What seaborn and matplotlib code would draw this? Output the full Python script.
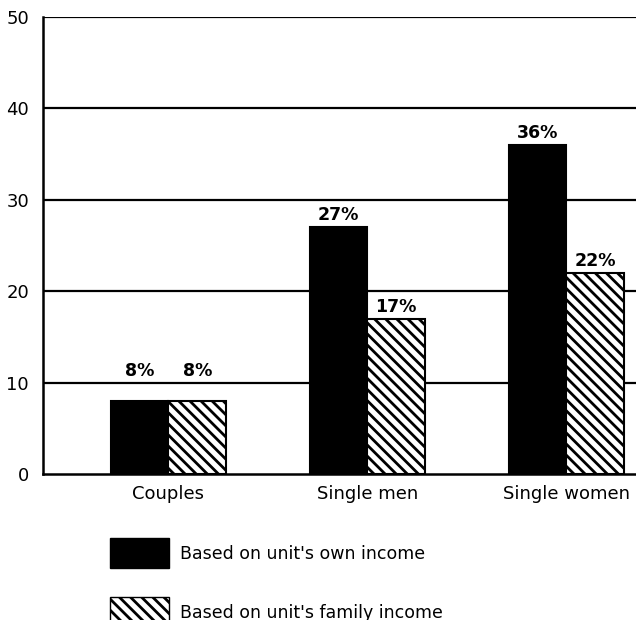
import pandas as pd
import matplotlib.pyplot as plt
import matplotlib.patches as mpatches
import seaborn as sns

# data
categories = ["Couples", "Single men", "Single women"]
own_income = [8, 27, 36]
family_income = [8, 17, 22]
series = ["Based on unit's own income", "Based on unit's family income"]

df = pd.DataFrame({
    "group": categories * 2,
    "value": own_income + family_income,
    "basis": [series[0]] * 3 + [series[1]] * 3,
})

sns.set_style("white")
plt.rcParams["font.family"] = ["DejaVu Sans"]
plt.rcParams["text.color"] = "black"
plt.rcParams["hatch.linewidth"] = 2.0
plt.rcParams["hatch.color"] = "black"

HATCH = "\\\\\\"

fig = plt.figure(figsize=(6.36, 6.2), dpi=100)
ax = fig.add_axes([0.0676, 0.2355, 0.9324, 0.7371])

sns.barplot(data=df, x="group", y="value", hue="basis", order=categories,
            hue_order=series, palette=["black", "white"], width=0.58,
            edgecolor="black", linewidth=1.5, ax=ax, legend=False)

# hatch the family-income bars
for bar in ax.containers[1]:
    bar.set_hatch(HATCH)

ax.set_ylim(0, 50)
ax.set_xlim(-0.63, 2.35)
ax.set_yticks([0, 10, 20, 30, 40, 50])
for y in [10, 20, 30, 40, 50]:
    ax.axhline(y, color="black", lw=1.6, zorder=0)
for s in ["top", "right"]:
    ax.spines[s].set_visible(False)
for s in ["left", "bottom"]:
    ax.spines[s].set_color("black")
    ax.spines[s].set_linewidth(1.8)
ax.tick_params(axis="both", length=0, labelsize=13, colors="black")
ax.tick_params(axis="y", pad=10)
ax.tick_params(axis="x", pad=8)
ax.set_xlabel("")
ax.set_ylabel("")

# value labels above bars (kept clear of the gridline at 10)
for cont, vals in zip(ax.containers, [own_income, family_income]):
    for bar, v in zip(cont, vals):
        xc = bar.get_x() + bar.get_width() / 2
        y = v if v > 12 else 10
        ax.annotate(f"{v}%", (xc, y), xytext=(0, 2), textcoords="offset points",
                    ha="center", va="bottom", fontsize=12.5, fontweight="bold")

handles = [
    mpatches.Patch(facecolor="black", edgecolor="black", label=series[0]),
    mpatches.Patch(facecolor="white", edgecolor="black", hatch=HATCH, label=series[1]),
]
fig.legend(handles=handles, loc="upper left", bbox_to_anchor=(0.16, 0.146),
           frameon=False, fontsize=12.5, handlelength=3.4, handleheight=2.3,
           labelspacing=1.65, handletextpad=0.6, borderpad=0)

fig.savefig("out.png", dpi=100)
